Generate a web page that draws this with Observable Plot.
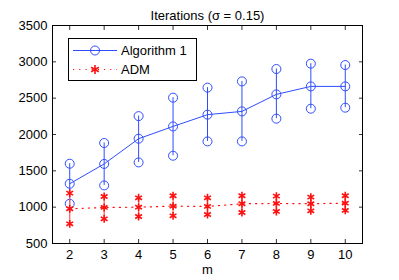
<!DOCTYPE html>
<html>
<head>
<meta charset="utf-8">
<script src="https://cdn.jsdelivr.net/npm/d3@7"></script>
<script src="https://cdn.jsdelivr.net/npm/@observablehq/plot@0.6"></script>
<style>
  body { margin: 0; background: #fff; }
  #chart { width: 399px; height: 280px; }
</style>
</head>
<body>
<div id="chart"></div>
<script>
const titleText = "Iterations (σ = 0.15)";
const xLabel = "m";
const seriesNames = ["Algorithm 1", "ADM"];
const mValues = [2, 3, 4, 5, 6, 7, 8, 9, 10];
const alg1Mean = [1322, 1595, 1942, 2111, 2273, 2318, 2552, 2662, 2662];
const alg1Hi   = [1598, 1883, 2253, 2507, 2645, 2731, 2901, 2975, 2956];
const alg1Lo   = [1047, 1299, 1616, 1708, 1905, 1905, 2218, 2355, 2369];
const admMean  = [978, 996, 1000, 1014, 1010, 1047, 1051, 1047, 1055];
const admHi    = [1193, 1147, 1129, 1157, 1129, 1157, 1152, 1138, 1157];
const admLo    = [771, 840, 872, 881, 899, 927, 941, 950, 955];
const yTicks = [500, 1000, 1500, 2000, 2500, 3000, 3500];
const xTicks = [2, 3, 4, 5, 6, 7, 8, 9, 10];

const blue = "#2f4dff";
const red = "#ff1010";
const font = "'Liberation Sans', Arial, Helvetica, sans-serif";
const fmt = d => String(d);

const alg = mValues.map((m, i) => ({m, mean: alg1Mean[i], hi: alg1Hi[i], lo: alg1Lo[i]}));
const adm = mValues.map((m, i) => ({m, mean: admMean[i], hi: admHi[i], lo: admLo[i]}));

const chart = Plot.plot({
  width: 399,
  height: 280,
  marginLeft: 52,
  marginRight: 37,
  marginTop: 25,
  marginBottom: 37,
  style: {fontFamily: font, fontSize: "13px", background: "white", color: "black"},
  x: {domain: [1.5, 10.5]},
  y: {domain: [500, 3500]},
  marks: [
    // Algorithm 1
    Plot.ruleX(alg, {x: "m", y1: "lo", y2: "hi", stroke: blue, strokeWidth: 1}),
    Plot.line(alg, {x: "m", y: "mean", stroke: blue, strokeWidth: 1}),
    Plot.dot(alg, {x: "m", y: "mean", r: 4.5, stroke: blue, fill: "none", strokeWidth: 1}),
    Plot.dot(alg, {x: "m", y: "hi", r: 4.5, stroke: blue, fill: "none", strokeWidth: 1}),
    Plot.dot(alg, {x: "m", y: "lo", r: 4.5, stroke: blue, fill: "none", strokeWidth: 1}),
    // ADM
    Plot.ruleX(adm, {x: "m", y1: "lo", y2: "hi", stroke: "#ff5a5a", strokeWidth: 1.2}),
    Plot.line(adm, {x: "m", y: "mean", stroke: red, strokeWidth: 1.2, strokeDasharray: "1.2,5"}),
    Plot.dot(adm, {x: "m", y: "mean", symbol: "asterisk", r: 3.7, stroke: red, strokeWidth: 1.6}),
    Plot.dot(adm, {x: "m", y: "hi", symbol: "asterisk", r: 3.7, stroke: red, strokeWidth: 1.6}),
    Plot.dot(adm, {x: "m", y: "lo", symbol: "asterisk", r: 3.7, stroke: red, strokeWidth: 1.6}),
    // axes
    Plot.axisY(yTicks, {anchor: "left", tickSize: -4, tickPadding: 9, tickFormat: fmt, fontSize: 13, label: null, stroke: "#333"}),
    Plot.axisY(yTicks, {anchor: "right", tickSize: -4, tickFormat: () => "", label: null, stroke: "#333"}),
    Plot.axisX(xTicks, {anchor: "bottom", tickSize: -4, tickPadding: 10, tickFormat: fmt, fontSize: 13, label: null, stroke: "#333"}),
    Plot.axisX(xTicks, {anchor: "top", tickSize: -4, tickFormat: () => "", label: null, stroke: "#333"}),
    Plot.frame({stroke: "black", strokeWidth: 1}),
    Plot.text([titleText], {frameAnchor: "top", dy: -15, fontSize: 13, fill: "black"}),
    Plot.text([xLabel], {frameAnchor: "bottom", dy: 30, fontSize: 13, fill: "black"})
  ]
});

document.getElementById("chart").appendChild(chart);

// Legend box (MATLAB-style, inside the axes)
const svg = d3.select(chart);
const lg = svg.append("g").attr("font-family", font).attr("font-size", 13).attr("text-anchor", "start");
lg.append("rect").attr("x", 68.5).attr("y", 38.5).attr("width", 128).attr("height", 42)
  .attr("fill", "white").attr("stroke", "black").attr("stroke-width", 1);
// entry 1
lg.append("line").attr("x1", 73).attr("x2", 117).attr("y1", 50.5).attr("y2", 50.5)
  .attr("stroke", blue).attr("stroke-width", 1);
lg.append("circle").attr("cx", 95).attr("cy", 50.5).attr("r", 4.5)
  .attr("fill", "none").attr("stroke", blue).attr("stroke-width", 1);
lg.append("text").attr("x", 121).attr("y", 50.5).attr("dy", "0.35em").attr("fill", "black").text(seriesNames[0]);
// entry 2
lg.append("line").attr("x1", 73).attr("x2", 117).attr("y1", 69.5).attr("y2", 69.5)
  .attr("stroke", red).attr("stroke-width", 1.2).attr("stroke-dasharray", "1.2,5");
lg.append("path").attr("d", d3.symbol(d3.symbolAsterisk, 55)())
  .attr("transform", "translate(95,69.5)").attr("fill", "none").attr("stroke", red).attr("stroke-width", 1.6);
lg.append("text").attr("x", 121).attr("y", 69.5).attr("dy", "0.35em").attr("fill", "black").text(seriesNames[1]);
</script>
</body>
</html>
